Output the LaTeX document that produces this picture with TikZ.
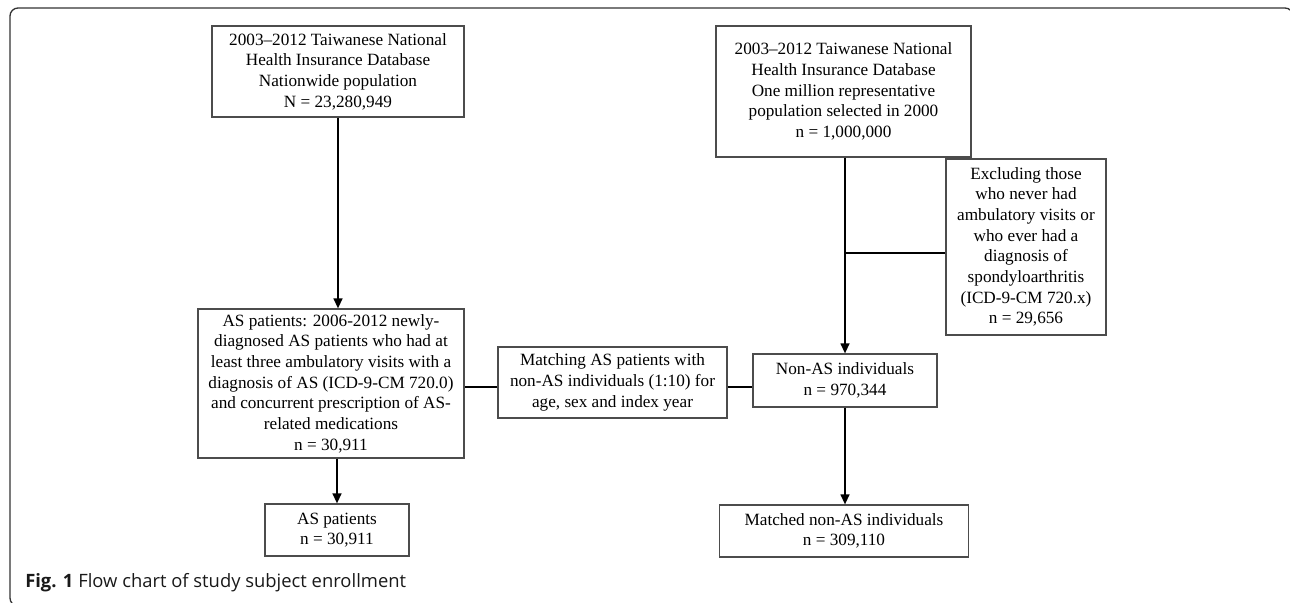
\documentclass[tikz,border=0pt]{standalone}
\usepackage{fontspec}
\setmainfont{Liberation Serif}
\newfontfamily\capfont{Open Sans}
\usepackage{tikz}
\usetikzlibrary{arrows.meta}

\tikzset{
  box/.style={draw=black!70, line width=0.8pt, align=center, inner sep=0pt,
    font=\fontsize{12.9}{15.5}\selectfont},
  link/.style={line width=1.5pt},
  flow/.style={link, -{Triangle[length=7.5pt,width=6.5pt]}},
}

\begin{document}
\begin{tikzpicture}[x=0.75pt, y=-0.75pt]
    \useasboundingbox (0,0) rectangle (1290,603);
    \clip (0,0) rectangle (1290,603);
    \draw[black!80, line width=1pt, rounded corners=6pt] (1293,40) -- (1293,8) -- (10,8) -- (10,606) -- (40,606);

    \node[box, minimum width=189pt, minimum height=68.25pt] (NHI) at (338, 71.5)
      {2003--2012 Taiwanese National\\Health Insurance Database\\Nationwide population\\N = 23,280,949};
    \node[box, minimum width=191.25pt, minimum height=98.25pt] (REP) at (843.5, 91.5)
      {2003--2012 Taiwanese National\\Health Insurance Database\\One million representative\\population selected in 2000\\n = 1,000,000};
    \node[box, minimum width=120pt, minimum height=132pt] (EXCL) at (1026, 247)
      {Excluding those\\who never had\\ambulatory visits or\\who ever had a\\diagnosis of\\spondyloarthritis\\(ICD-9-CM 720.x)\\n = 29,656};
    \node[box, minimum width=199.5pt, minimum height=111.75pt] (AS) at (331, 383.5)
      {AS patients: 2006-2012 newly-\\diagnosed AS patients who had at\\least three ambulatory visits with a\\diagnosis of AS (ICD-9-CM 720.0)\\and concurrent prescription of AS-\\related medications\\n = 30,911};
    \node[box, minimum width=171.75pt, minimum height=53.25pt] (MATCH) at (612.5, 382.5)
      {Matching AS patients with\\non-AS individuals (1:10) for\\age, sex and index year};
    \node[box, minimum width=138pt, minimum height=39.75pt] (NONAS) at (845, 380.5)
      {Non-AS individuals\\n = 970,344};
    \node[box, minimum width=108pt, minimum height=39pt] (ASP) at (337, 530)
      {AS patients\\n = 30,911};
    \node[box, minimum width=186.75pt, minimum height=39pt] (MNONAS) at (844, 531)
      {Matched non-AS individuals\\n = 309,110};

    \draw[flow] (NHI) -- (NHI |- AS.north);
    \draw[flow] (ASP.north |- AS.south) -- (ASP.north);
    \draw[flow] (REP.south -| NONAS) -- (NONAS.north);
    \draw[link] ([yshift=-4.5pt]EXCL.west) -- ([yshift=-4.5pt]EXCL.west -| NONAS);
    \draw[link] ([yshift=-3.4pt]MATCH.west) -- ([yshift=-3.4pt]MATCH.west -| AS.east);
    \draw[link] ([yshift=-3.4pt]MATCH.east) -- ([yshift=-3.4pt]MATCH.east -| NONAS.west);
    \draw[flow] (NONAS.south) -- (NONAS.south |- MNONAS.north);

    \node[anchor=west, text=black!90, inner sep=0pt, font=\capfont\fontsize{13.8}{16}\selectfont] (CAP) at (25, 583)
      {\textbf{Fig. 1} Flow chart of study subject enrollment};
\end{tikzpicture}
\end{document}
